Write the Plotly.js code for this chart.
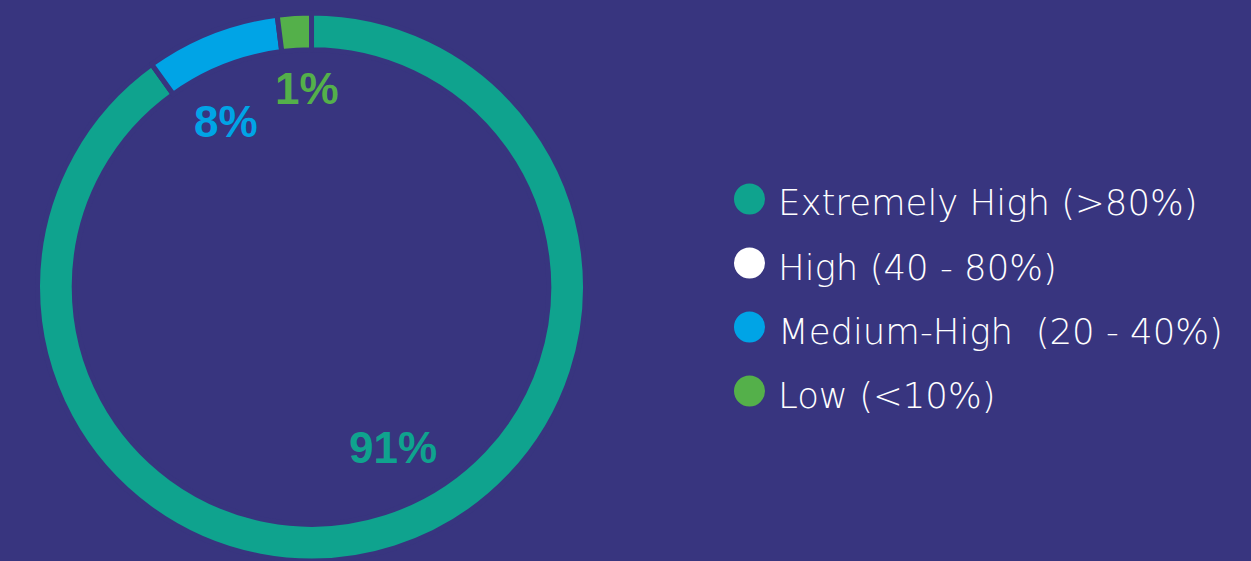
<!DOCTYPE html>
<html>
<head>
<meta charset="utf-8">
<script src="https://cdn.plot.ly/plotly-3.0.1.min.js"></script>
<style>
html, body { margin: 0; padding: 0; background: #38357F; }
#chart { width: 1251px; height: 561px; }
</style>
</head>
<body>
<div id="chart"></div>
<script>
// ---- data ----
const categories = ['Extremely High (>80%)', 'High (40 - 80%)', 'Medium-High\u00a0\u00a0(20 - 40%)', 'Low (<10%)'];
const shares = [90.1, 0, 7.9, 2.0];          // slice sizes as drawn
const shareLabels = ['91%', '', '8%', '1%'];  // printed labels
const colors = ['#0FA38E', '#FFFFFF', '#00A4E6', '#54B04A'];

// ---- layout constants ----
const W = 1251, H = 561;
const BG = '#38357F';
const labelPos = [[393, 447], null, [226, 121], [307, 88]];   // pixel centres of % labels
const legendX = 749.5, legendTextX = 776, legendY0 = 199, legendStep = 64, dotR = 15.5;

const px = x => x / W;
const py = y => 1 - y / H;

const annotations = [];
const shapes = [];

shareLabels.forEach((t, i) => {
  if (!t || !labelPos[i]) return;
  annotations.push({
    text: t, xref: 'paper', yref: 'paper', showarrow: false,
    x: px(labelPos[i][0]), y: py(labelPos[i][1]), xanchor: 'center', yanchor: 'middle',
    font: { family: 'Liberation Sans, Arial, sans-serif', size: 44, color: colors[i], weight: 'bold' }
  });
});

categories.forEach((c, i) => {
  const cy = legendY0 + i * legendStep;
  shapes.push({
    type: 'circle', xref: 'paper', yref: 'paper',
    xsizemode: 'pixel', ysizemode: 'pixel',
    xanchor: px(legendX), yanchor: py(cy),
    x0: -dotR, x1: dotR, y0: -dotR, y1: dotR,
    fillcolor: colors[i], line: { width: 0 }
  });
  annotations.push({
    text: c, xref: 'paper', yref: 'paper', showarrow: false,
    x: px(legendTextX), y: py(cy + 4), xanchor: 'left', yanchor: 'middle',
    font: { family: 'DejaVu Sans, sans-serif', size: 35.5, color: '#FFFFFF', weight: 200 }
  });
});

const trace = {
  type: 'pie',
  labels: categories,
  values: shares,
  sort: false,
  direction: 'clockwise',
  rotation: 0,
  hole: 0.866,
  textinfo: 'none',
  hoverinfo: 'skip',
  showlegend: false,
  marker: { colors: colors, line: { color: BG, width: 5 } },
  domain: { x: [0.02998, 0.46803], y: [0, 0.9768] }
};

Plotly.newPlot('chart', [trace], {
  width: W, height: H,
  margin: { l: 0, r: 0, t: 0, b: 0 },
  paper_bgcolor: BG, plot_bgcolor: BG,
  showlegend: false,
  annotations: annotations,
  shapes: shapes
}, { displayModeBar: false, staticPlot: true });
</script>
</body>
</html>
